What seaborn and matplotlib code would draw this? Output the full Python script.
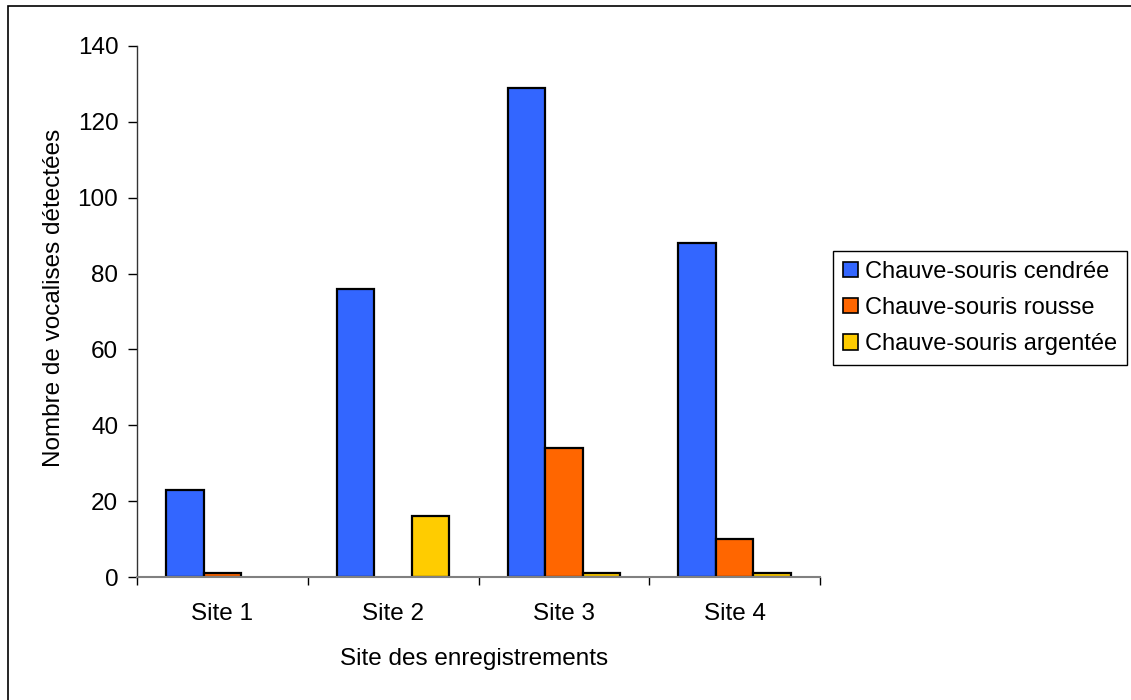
import matplotlib
matplotlib.use("Agg")
import matplotlib.pyplot as plt
from matplotlib.patches import Rectangle
from matplotlib.ticker import FixedLocator
import seaborn as sns
import pandas as pd

# Detection counts per recording site
sites = ["Site 1", "Site 2", "Site 3", "Site 4"]
species = ["Chauve-souris cendrée", "Chauve-souris rousse", "Chauve-souris argentée"]
cendree = [23, 76, 129, 88]
rousse = [1, 0, 34, 10]
argentee = [0, 16, 1, 1]
colors = ["#3366FF", "#FF6600", "#FFCC00"]

rows = []
for sp, vals in zip(species, [cendree, rousse, argentee]):
    for site, v in zip(sites, vals):
        rows.append({"Site": site, "Espèce": sp, "Vocalises": v})
df = pd.DataFrame(rows)

sns.set_theme(style="white")
plt.rcParams["font.family"] = ["Liberation Sans", "DejaVu Sans"]
plt.rcParams.update({"text.color": "black", "axes.labelcolor": "black",
                     "xtick.color": "black", "ytick.color": "black"})

W, H = 1131, 700
fig = plt.figure(figsize=(W / 100, H / 100), dpi=100)
ax = fig.add_axes([137 / W, 1 - 577 / H, (820 - 137) / W, (577 - 46) / H])

sns.barplot(data=df, x="Site", y="Vocalises", hue="Espèce", hue_order=species,
            order=sites, palette=colors, saturation=1, width=0.66,
            edgecolor="black", linewidth=1.6, ax=ax, legend=True)

# hide outline of empty bars
for p in ax.patches:
    if p.get_height() == 0:
        p.set_linewidth(0)

FS = 17.5
ax.set_xlim(-0.5, 3.5)
ax.set_ylim(0, 140)
ax.set_yticks(range(0, 141, 20))
ax.tick_params(axis="y", which="major", left=True, length=6.5, width=1, color="black",
               labelsize=FS, pad=7, labelcolor="black")
ax.tick_params(axis="x", which="major", bottom=False, length=0, labelsize=FS, pad=19,
               labelcolor="black")
ax.xaxis.set_minor_locator(FixedLocator([-0.5, 0.5, 1.5, 2.5, 3.5]))
ax.tick_params(axis="x", which="minor", bottom=True, length=6, width=1, color="black")

for side in ["top", "right"]:
    ax.spines[side].set_visible(False)
ax.spines["left"].set_color("#333333")
ax.spines["bottom"].set_color("#808080")
ax.spines["left"].set_linewidth(1)
ax.spines["bottom"].set_linewidth(1.5)

ax.set_xlabel("Site des enregistrements", fontsize=FS, color="black")
ax.set_ylabel("Nombre de vocalises détectées", fontsize=FS, color="black")
ax.xaxis.label.set_verticalalignment("center")
ax.xaxis.set_label_coords(0.494, (577 - 659) / 531)
ax.yaxis.label.set_verticalalignment("center")
ax.yaxis.set_label_coords((54 - 137) / 683, (577 - 298) / 531)

handles, labels = ax.get_legend_handles_labels()
leg = ax.legend(handles, labels, loc="upper left",
                bbox_to_anchor=(833 / W, 1 - 251 / H), bbox_transform=fig.transFigure,
                fontsize=17, frameon=True, fancybox=False, framealpha=1,
                edgecolor="black", handlelength=0.62, handleheight=0.62,
                handletextpad=0.3, labelspacing=0.6, borderpad=0.42, borderaxespad=0)
leg.get_frame().set_linewidth(1)
for h in leg.legend_handles:
    h.set_edgecolor("black")
    h.set_linewidth(1.2)
for t in leg.get_texts():
    t.set_color("black")

# outer chart border
fig.patches.append(Rectangle((8 / W, -0.1), 1.2, 1 - 6 / H + 0.1,
                             transform=fig.transFigure, fill=False,
                             edgecolor="black", linewidth=1.2))

fig.savefig("out.png", dpi=100)
